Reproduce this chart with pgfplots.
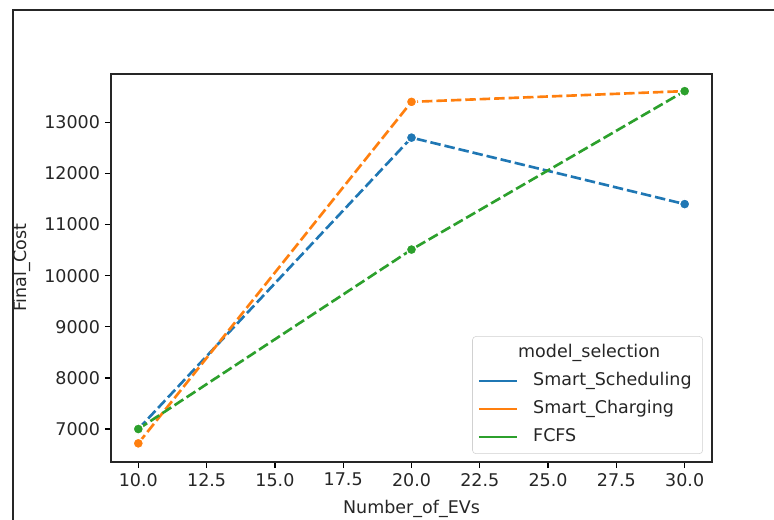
\documentclass[border=0pt]{standalone}
\usepackage{pgfplots}
\pgfplotsset{compat=1.18}
\usepackage{fontspec}
\setmainfont{DejaVu Sans}
\definecolor{tabblue}{HTML}{1F77B4}
\definecolor{taborange}{HTML}{FF7F0E}
\definecolor{tabgreen}{HTML}{2CA02C}
\begin{document}
\begin{tikzpicture}
\useasboundingbox (-79.92pt,-41.76pt) rectangle (477.36pt,332.64pt);
\draw[line width=0.9pt, black!85] (-70.56pt,-41.76pt) -- (-70.56pt,325.44pt) -- (477.36pt,325.44pt);
\begin{axis}[
  at={(0,0)}, anchor=south west, scale only axis,
  width=432.72pt, height=279.36pt,
  xmin=9, xmax=31, ymin=6355, ymax=13945,
  xtick={10,12.5,...,30}, ytick={7000,8000,...,13000},
  scaled y ticks=false, scaled x ticks=false,
  /pgf/number format/assume math mode=true,
  xticklabel style={/pgf/number format/fixed, /pgf/number format/fixed zerofill, /pgf/number format/precision=1},
  yticklabel style={/pgf/number format/fixed, /pgf/number format/1000 sep={}},
  tick label style={font=\fontsize{12.6}{15}\selectfont, black!85},
  tick align=outside, tick pos=left, major tick length=4.4pt,
  tick style={black, line width=1pt},
  axis line style={black!85, line width=1pt},
  xlabel={Number\_of\_EVs}, ylabel={Final\_Cost},
  label style={font=\fontsize{12.6}{15}\selectfont, black!85},
  xlabel style={at={(axis description cs:0.5,-0.121)}, anchor=center},
  ylabel style={at={(axis description cs:-0.148,0.5)}, anchor=center},
  legend image code/.code={\draw[#1] (0pt,0pt) -- (27.4pt,0pt);},
  legend style={at={(0.985,0.0207)}, anchor=south east,
    draw=black!18, fill=white, fill opacity=0.8, text opacity=1,
    rounded corners=2.5pt, font=\fontsize{12.6}{15}\selectfont,
    inner xsep=3.6pt, inner ysep=5.8pt, row sep=8pt, column sep=10.8pt,
    nodes={inner sep=0pt, text height=9.2pt, text depth=3pt, text=black!85}},
  legend cell align=left,
]
\addplot[tabblue, line width=1.9pt, dash pattern=on 7.56pt off 2.84pt,
  mark=*, mark size=3.7pt, mark options={solid, fill=tabblue, draw=white, line width=0.9pt}, forget plot]
  coordinates {(10,7000) (20,12700) (30,11400)};
\addplot[taborange, line width=1.9pt, dash pattern=on 7.56pt off 2.84pt,
  mark=*, mark size=3.7pt, mark options={solid, fill=taborange, draw=white, line width=0.9pt}, forget plot]
  coordinates {(10,6720) (20,13400) (30,13610)};
\addplot[tabgreen, line width=1.9pt, dash pattern=on 7.56pt off 2.84pt,
  mark=*, mark size=3.7pt, mark options={solid, fill=tabgreen, draw=white, line width=0.9pt}, forget plot]
  coordinates {(10,7000) (20,10510) (30,13610)};
\addlegendimage{empty legend}
\addlegendentry{\hspace*{-10.8pt}model\_selection}
\addlegendimage{tabblue, line width=1.9pt, solid}
\addlegendentry{Smart\_Scheduling\hspace*{4.4pt}}
\addlegendimage{taborange, line width=1.9pt, solid}
\addlegendentry{Smart\_Charging}
\addlegendimage{tabgreen, line width=1.9pt, solid}
\addlegendentry{FCFS}
\end{axis}
\end{tikzpicture}
\end{document}
